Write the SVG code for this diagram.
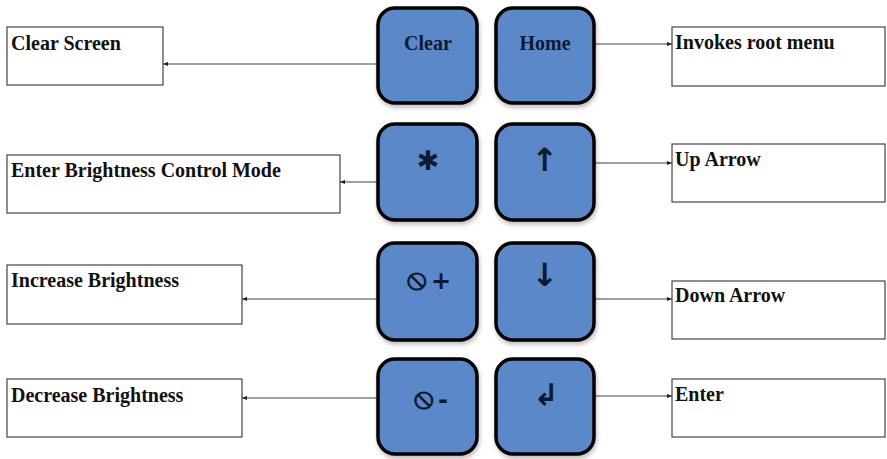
<svg xmlns="http://www.w3.org/2000/svg" width="887" height="459" viewBox="0 0 887 459">
<style>
.key{fill:#5a88c8;stroke:#000;stroke-width:3.5}
.kt{font-family:"Liberation Serif",serif;font-weight:bold;font-size:20px;fill:#0d1a30;text-anchor:middle}
.sym{font-family:"DejaVu Sans",sans-serif;font-weight:bold;fill:#0d1a30;text-anchor:middle}
.box{fill:#fff;stroke:#444;stroke-width:1.2}
.lt{font-family:"Liberation Serif",serif;font-weight:bold;font-size:20px;fill:#111}
.con{stroke:#444;stroke-width:1.2;fill:none;marker-end:url(#ah)}
</style>
<defs>
<marker id="ah" viewBox="0 0 6 6" refX="6" refY="3" markerWidth="5" markerHeight="5" orient="auto" markerUnits="userSpaceOnUse">
<path d="M0,0.5 L6,3 L0,5.5 z" fill="#222"/>
</marker>
<filter id="sh" x="-10%" y="-10%" width="130%" height="130%">
<feDropShadow dx="1" dy="3" stdDeviation="2" flood-color="#000" flood-opacity="0.25"/>
</filter>
</defs>
<g id="connectors">
<line class="con" x1="377" y1="64" x2="163" y2="64"/>
<line class="con" x1="377" y1="182" x2="340" y2="182"/>
<line class="con" x1="377" y1="299" x2="242" y2="299"/>
<line class="con" x1="377" y1="398" x2="242" y2="398"/>
<line class="con" x1="595" y1="44" x2="672" y2="44"/>
<line class="con" x1="595" y1="163" x2="672" y2="163"/>
<line class="con" x1="595" y1="299" x2="672" y2="299"/>
<line class="con" x1="595" y1="396" x2="672" y2="396"/>
</g>
<g id="key-clear"><rect class="key" filter="url(#sh)" x="378" y="8" width="99" height="95" rx="17"/><text class="kt" x="428" y="50">Clear</text></g>
<g id="key-home"><rect class="key" filter="url(#sh)" x="496" y="8" width="98" height="95" rx="17"/><text class="kt" x="545" y="50">Home</text></g>
<g id="key-star"><rect class="key" filter="url(#sh)" x="378" y="124" width="99" height="96" rx="17"/><text class="sym" x="428" y="170" font-size="27">✱</text></g>
<g id="key-up"><rect class="key" filter="url(#sh)" x="496" y="124" width="98" height="96" rx="17"/><text class="sym" x="545" y="171" font-size="32">↑</text></g>
<g id="key-bplus"><rect class="key" filter="url(#sh)" x="378" y="243" width="99" height="97" rx="17"/><text class="sym" x="429" y="289"><tspan font-size="30">⦸</tspan><tspan font-size="24" dx="4">+</tspan></text></g>
<g id="key-down"><rect class="key" filter="url(#sh)" x="496" y="243" width="98" height="97" rx="17"/><text class="sym" x="545" y="286" font-size="32">↓</text></g>
<g id="key-bminus"><rect class="key" filter="url(#sh)" x="378" y="359" width="99" height="95" rx="17"/><text class="sym" x="431" y="408"><tspan font-size="30">⦸</tspan><tspan font-size="24" dx="4">-</tspan></text></g>
<g id="key-enter"><rect class="key" filter="url(#sh)" x="496" y="359" width="98" height="95" rx="17"/><text class="sym" x="546" y="405" font-size="30">↲</text></g>
<g id="lbl-clear-screen"><rect class="box" x="7" y="27" width="156" height="58"/><text class="lt" x="11" y="50">Clear Screen</text></g>
<g id="lbl-brightness-mode"><rect class="box" x="7" y="155" width="333" height="58"/><text class="lt" x="11" y="177">Enter Brightness Control Mode</text></g>
<g id="lbl-increase"><rect class="box" x="7" y="265" width="235" height="59"/><text class="lt" x="11" y="287">Increase Brightness</text></g>
<g id="lbl-decrease"><rect class="box" x="7" y="379" width="235" height="58"/><text class="lt" x="11" y="402">Decrease Brightness</text></g>
<g id="lbl-root-menu"><rect class="box" x="672" y="27" width="213" height="59"/><text class="lt" x="675" y="49">Invokes root menu</text></g>
<g id="lbl-up-arrow"><rect class="box" x="672" y="144" width="213" height="58"/><text class="lt" x="675" y="166">Up Arrow</text></g>
<g id="lbl-down-arrow"><rect class="box" x="672" y="281" width="213" height="58"/><text class="lt" x="675" y="302">Down Arrow</text></g>
<g id="lbl-enter"><rect class="box" x="672" y="379" width="213" height="58"/><text class="lt" x="675" y="401">Enter</text></g>
</svg>
